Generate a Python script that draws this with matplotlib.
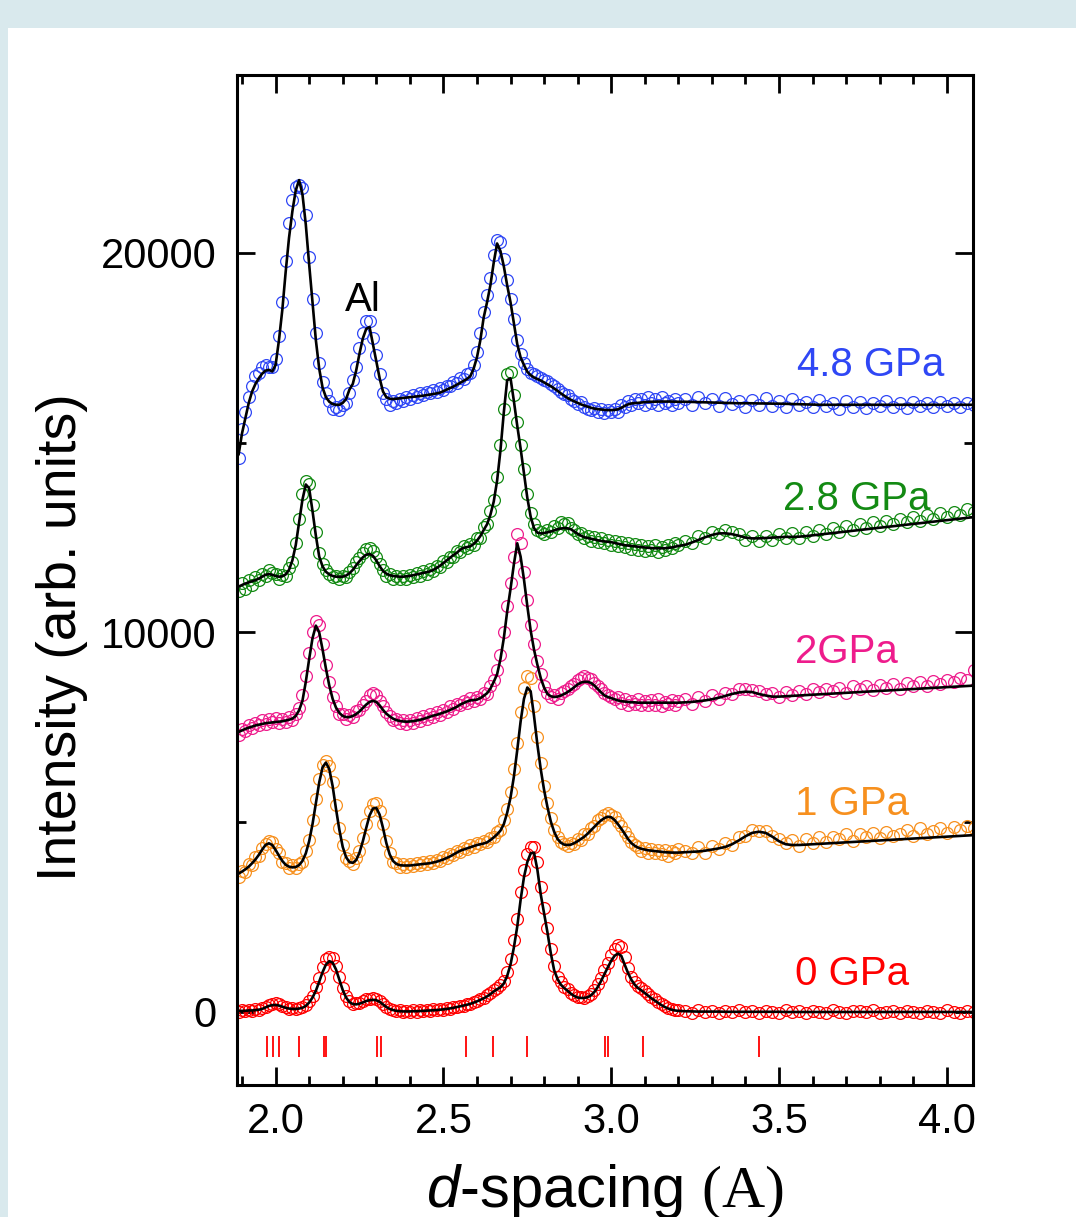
import numpy as np
import matplotlib.pyplot as plt
from matplotlib.patches import Rectangle
from matplotlib.ticker import MultipleLocator

plt.rcParams['font.family'] = ['Liberation Sans', 'DejaVu Sans']
plt.rcParams['mathtext.fontset'] = 'custom'
plt.rcParams['mathtext.it'] = 'Liberation Sans:italic'
plt.rcParams['mathtext.rm'] = 'Liberation Serif'

# d-spacing grid: 0.01 steps up to 3.20, then 0.02 steps to 4.08
d = np.concatenate([np.arange(189, 321) / 100, np.arange(322, 409, 2) / 100])

# ---------------- 0 GPa ----------------
fit_0 = [
    30, 30, 30, 40, 40, 50, 60, 80, 120, 160,
    180, 185, 170, 140, 110, 90, 80, 80, 90, 110,
    160, 250, 380, 560, 800, 1050, 1250, 1340, 1300, 1120,
    850, 580, 380, 260, 210, 200, 220, 250, 290, 310,
    320, 310, 270, 200, 130, 80, 50, 30, 20, 15,
    15, 15, 20, 20, 25, 30, 35, 40, 45, 50,
    60, 70, 80, 95, 110, 130, 150, 170, 190, 215,
    245, 280, 320, 360, 410, 470, 540, 600, 650, 750,
    950, 1250, 1700, 2250, 2950, 3550, 3950, 4180, 4200, 3750,
    3100, 2600, 2100, 1550, 1100, 870, 720, 630, 560, 480,
    420, 380, 370, 370, 390, 440, 530, 660, 820, 1000,
    1180, 1350, 1480, 1540, 1480, 1250, 1030, 850, 720, 630,
    570, 500, 430, 360, 300, 240, 180, 130, 90, 60,
    40, 30,
    20, 15, 10, 10, 10, 10, 5, 5, 5, 5,
    5, 5, 5, 5, 5, 0, 0, 0, 0, 0,
    0, 0, 0, 0, 0, 0, 0, 0, 0, 0,
    0, 0, 0, 0, 0, 0, 0, 0, 0, 0,
    0, 0, 0, 0,
]
obs_0 = [
    10, 40, 20, 60, 30, 70, 50, 110, 130, 190,
    220, 230, 200, 150, 130, 90, 110, 70, 100, 130,
    180, 290, 430, 650, 900, 1180, 1390, 1460, 1420, 1220,
    930, 640, 420, 290, 220, 230, 240, 290, 330, 350,
    370, 340, 300, 220, 140, 70, 60, 20, 40, 10,
    30, 0, 40, 10, 50, 20, 60, 30, 70, 60,
    80, 60, 100, 90, 130, 120, 170, 160, 210, 200,
    270, 290, 350, 370, 440, 490, 570, 620, 700, 820,
    1050, 1400, 1900, 2450, 3150, 3750, 4150, 4350, 4360, 3950,
    3300, 2750, 2200, 1650, 1200, 930, 780, 660, 600, 500,
    450, 390, 400, 380, 420, 480, 590, 740, 900, 1100,
    1300, 1500, 1650, 1760, 1700, 1450, 1150, 930, 790, 690,
    620, 560, 470, 400, 330, 260, 200, 150, 100, 80,
    50, 40,
    30, -20, 40, 0, 30, -30, 20, -10, 40, 0,
    30, -30, 20, 10, -20, 40, 0, 20, -30, 30,
    10, -20, 40, 0, -30, 20, 30, -10, 40, -20,
    0, 30, -30, 20, 10, -20, 30, 0, -30, 40,
    10, -20, 30, 0,
]

# ---------------- 1 GPa ----------------
fit_1 = [
    3650, 3700, 3760, 3830, 3920, 4020, 4140, 4280, 4400, 4445,
    4400, 4270, 4120, 3980, 3880, 3830, 3810, 3820, 3870, 3980,
    4180, 4500, 4950, 5500, 6050, 6450, 6570, 6400, 5950, 5350,
    4800, 4350, 4080, 3950, 3930, 4000, 4200, 4500, 4850, 5180,
    5360, 5380, 5200, 4850, 4450, 4150, 3980, 3900, 3870, 3860,
    3860, 3860, 3870, 3880, 3890, 3900, 3910, 3920, 3940, 3960,
    3990, 4020, 4060, 4100, 4150, 4200, 4250, 4280, 4310, 4340,
    4370, 4400, 4420, 4440, 4470, 4530, 4600, 4680, 4780, 4950,
    5250, 5650, 6200, 6900, 7650, 8250, 8550, 8450, 7800, 7050,
    6400, 5850, 5400, 5020, 4750, 4560, 4460, 4410, 4400, 4410,
    4450, 4500, 4560, 4620, 4700, 4790, 4880, 4970, 5050, 5110,
    5146, 5130, 5060, 4950, 4830, 4700, 4560, 4450, 4380, 4330,
    4300, 4280, 4260, 4250, 4240, 4230, 4220, 4210, 4205, 4200,
    4200, 4200,
    4210, 4220, 4230, 4250, 4280, 4310, 4350, 4420, 4520, 4630,
    4720, 4750, 4720, 4620, 4500, 4420, 4400, 4400, 4410, 4420,
    4430, 4440, 4450, 4460, 4470, 4480, 4490, 4500, 4510, 4520,
    4530, 4540, 4550, 4560, 4570, 4580, 4590, 4600, 4610, 4620,
    4630, 4640, 4650, 4660,
]
obs_1 = [
    3560, 3720, 3700, 3900, 3880, 4080, 4120, 4330, 4430, 4500,
    4480, 4300, 4180, 3950, 3930, 3800, 3860, 3790, 3900, 3960,
    4230, 4520, 5050, 5600, 6150, 6500, 6620, 6480, 6050, 5450,
    4850, 4400, 4050, 3980, 3900, 4050, 4230, 4580, 4950, 5300,
    5480, 5500, 5300, 4950, 4500, 4200, 3950, 3920, 3830, 3900,
    3820, 3900, 3850, 3930, 3860, 3950, 3890, 3980, 3920, 4010,
    3980, 4080, 4050, 4160, 4130, 4250, 4220, 4330, 4290, 4400,
    4360, 4450, 4420, 4500, 4480, 4590, 4620, 4750, 4800, 5050,
    5350, 5800, 6400, 7100, 7900, 8550, 8850, 8800, 8050, 7250,
    6550, 5950, 5500, 5100, 4800, 4620, 4480, 4420, 4380, 4450,
    4420, 4560, 4530, 4680, 4690, 4850, 4900, 5050, 5120, 5200,
    5250, 5200, 5150, 5000, 4900, 4750, 4600, 4480, 4400, 4350,
    4250, 4330, 4200, 4300, 4180, 4280, 4150, 4260, 4120, 4250,
    4180, 4300,
    4250, 4180, 4350, 4200, 4380, 4300, 4450, 4400, 4600, 4650,
    4800, 4780, 4760, 4650, 4560, 4450, 4520, 4380, 4550, 4450,
    4600, 4480, 4620, 4550, 4680, 4500, 4700, 4600, 4720, 4580,
    4750, 4650, 4700, 4800, 4650, 4850, 4700, 4780, 4850, 4720,
    4880, 4800, 4900, 4850,
]

# ---------------- 2 GPa ----------------
fit_2 = [
    7380, 7420, 7460, 7490, 7520, 7550, 7570, 7590, 7610, 7620,
    7630, 7640, 7650, 7660, 7680, 7700, 7730, 7800, 7950, 8200,
    8700, 9300, 9850, 10180, 10000, 9550, 9050, 8600, 8250, 8020,
    7880, 7800, 7770, 7770, 7800, 7850, 7920, 8010, 8100, 8170,
    8200, 8170, 8080, 7960, 7860, 7790, 7730, 7690, 7670, 7655,
    7650, 7655, 7665, 7680, 7700, 7720, 7750, 7780, 7810, 7830,
    7860, 7890, 7920, 7960, 8000, 8040, 8100, 8140, 8180, 8210,
    8220, 8230, 8270, 8330, 8400, 8520, 8700, 8900, 9300, 9850,
    10550, 11150, 11800, 12350, 12000, 11400, 10700, 10050, 9550, 9150,
    8800, 8550, 8380, 8320, 8300, 8310, 8340, 8380, 8430, 8490,
    8560, 8630, 8680, 8700, 8700, 8670, 8600, 8510, 8420, 8340,
    8300, 8270, 8240, 8210, 8190, 8180, 8170, 8160, 8160, 8150,
    8150, 8150, 8150, 8150, 8150, 8150, 8150, 8150, 8150, 8150,
    8150, 8150,
    8160, 8170, 8190, 8210, 8240, 8280, 8330, 8380, 8420, 8440,
    8430, 8380, 8340, 8310, 8310, 8320, 8330, 8340, 8350, 8360,
    8370, 8380, 8390, 8400, 8410, 8420, 8430, 8440, 8450, 8460,
    8470, 8480, 8490, 8500, 8510, 8520, 8530, 8540, 8550, 8560,
    8570, 8580, 8590, 8600,
]
obs_2 = [
    7300, 7450, 7400, 7560, 7480, 7620, 7550, 7700, 7580, 7720,
    7650, 7750, 7620, 7720, 7650, 7780, 7700, 7850, 8000, 8350,
    8850, 9450, 10000, 10300, 10200, 9700, 9150, 8700, 8300, 8050,
    7850, 7850, 7720, 7820, 7780, 7920, 7950, 8100, 8200, 8350,
    8400, 8350, 8200, 8050, 7900, 7800, 7700, 7720, 7620, 7700,
    7600, 7700, 7620, 7750, 7680, 7800, 7720, 7850, 7780, 7900,
    7830, 7950, 7900, 8050, 7980, 8120, 8080, 8200, 8150, 8280,
    8200, 8300, 8250, 8400, 8380, 8600, 8750, 9000, 9400, 10000,
    10700, 11300, 12000, 12600, 12350, 11600, 10850, 10200, 9700, 9250,
    8900, 8600, 8400, 8300, 8350, 8250, 8400, 8450, 8520, 8600,
    8650, 8750, 8800, 8850, 8800, 8780, 8680, 8600, 8500, 8400,
    8350, 8300, 8250, 8300, 8150, 8250, 8100, 8200, 8120, 8250,
    8100, 8200, 8080, 8220, 8100, 8250, 8060, 8180, 8120, 8230,
    8080, 8200,
    8250, 8120, 8300, 8200, 8350, 8250, 8400, 8380, 8500, 8520,
    8480, 8450, 8380, 8400, 8300, 8420, 8350, 8450, 8380, 8500,
    8420, 8520, 8450, 8550, 8400, 8580, 8500, 8600, 8480, 8620,
    8550, 8650, 8520, 8680, 8600, 8700, 8580, 8720, 8650, 8750,
    8700, 8800, 8750, 9000,
]

# ---------------- 2.8 GPa ----------------
fit_28 = [
    11210, 11250, 11290, 11320, 11350, 11380, 11420, 11470, 11520, 11540,
    11520, 11490, 11470, 11480, 11530, 11650, 11900, 12300, 12900, 13500,
    13900, 13800, 13200, 12550, 12000, 11740, 11600, 11530, 11490, 11470,
    11470, 11470, 11500, 11560, 11650, 11770, 11880, 11980, 12050, 12068,
    12020, 11900, 11750, 11620, 11550, 11510, 11490, 11480, 11470, 11470,
    11480, 11490, 11510, 11530, 11550, 11570, 11590, 11610, 11650, 11700,
    11760, 11830, 11900, 11970, 12040, 12100, 12180, 12230, 12250, 12270,
    12330, 12420, 12540, 12700, 12850, 13100, 13450, 14000, 14800, 15800,
    16650, 16700, 16100, 15450, 14850, 14200, 13550, 13050, 12750, 12630,
    12610, 12620, 12640, 12660, 12690, 12720, 12740, 12750, 12745, 12720,
    12660, 12600, 12550, 12510, 12490, 12470, 12450, 12430, 12410, 12400,
    12390, 12380, 12360, 12340, 12320, 12300, 12290, 12280, 12270, 12260,
    12250, 12240, 12230, 12225, 12220, 12218, 12218, 12220, 12230, 12240,
    12260, 12280,
    12310, 12370, 12440, 12510, 12570, 12610, 12614, 12590, 12550, 12500,
    12480, 12480, 12490, 12500, 12510, 12520, 12520, 12525, 12540, 12560,
    12580, 12600, 12620, 12640, 12660, 12680, 12700, 12720, 12740, 12760,
    12780, 12800, 12820, 12840, 12860, 12880, 12900, 12920, 12940, 12960,
    12980, 13000, 13020, 13040,
]
obs_28 = [
    11100, 11300, 11150, 11380, 11250, 11450, 11380, 11550, 11500, 11650,
    11580, 11550, 11420, 11520, 11480, 11700, 11850, 12350, 13000, 13650,
    14000, 13900, 13350, 12650, 12100, 11800, 11650, 11550, 11450, 11500,
    11400, 11480, 11450, 11600, 11700, 11850, 11950, 12100, 12200, 12230,
    12150, 12000, 11800, 11650, 11500, 11550, 11420, 11500, 11400, 11480,
    11420, 11520, 11460, 11580, 11500, 11620, 11550, 11680, 11620, 11750,
    11720, 11880, 11850, 12000, 11980, 12150, 12120, 12280, 12220, 12330,
    12300, 12480, 12500, 12780, 12850, 13200, 13500, 14100, 14950, 15900,
    16800, 16870, 16250, 15550, 14950, 14300, 13650, 13150, 12850, 12700,
    12650, 12600, 12700, 12650, 12800, 12750, 12900, 12850, 12880, 12750,
    12700, 12600, 12620, 12480, 12550, 12400, 12520, 12380, 12480, 12350,
    12450, 12300, 12420, 12280, 12380, 12250, 12350, 12200, 12320, 12180,
    12300, 12150, 12280, 12170, 12300, 12120, 12260, 12180, 12300, 12220,
    12350, 12300,
    12400, 12350, 12550, 12480, 12650, 12600, 12700, 12650, 12600, 12450,
    12550, 12400, 12550, 12450, 12600, 12480, 12620, 12500, 12650, 12550,
    12700, 12600, 12750, 12650, 12800, 12700, 12850, 12750, 12900, 12800,
    12950, 12850, 13000, 12900, 13050, 12950, 13100, 13000, 13150, 13050,
    13180, 13100, 13250, 13180,
]

# ---------------- 4.8 GPa ----------------
fit_48 = [
    14700, 15250, 15650, 16050, 16350, 16550, 16700, 16820, 16900, 16920,
    16880, 17050, 17700, 18500, 19500, 20400, 21100, 21650, 21920, 21550,
    20750, 19700, 18700, 17700, 16950, 16450, 16200, 16080, 16020, 16000,
    16000, 16050, 16150, 16400, 16550, 16900, 17350, 17750, 18000, 18050,
    17600, 17150, 16700, 16350, 16200, 16160, 16150, 16160, 16170, 16180,
    16190, 16200, 16210, 16220, 16230, 16240, 16255, 16270, 16285, 16300,
    16320, 16360, 16400, 16440, 16480, 16530, 16580, 16630, 16680, 16750,
    16950, 17250, 17700, 18300, 18700, 19150, 19750, 20250, 20050, 19650,
    19150, 18700, 18150, 17600, 17250, 17050, 16870, 16780, 16720, 16680,
    16640, 16590, 16540, 16490, 16430, 16370, 16300, 16240, 16180, 16130,
    16090, 16050, 16010, 15980, 15950, 15920, 15900, 15885, 15875, 15865,
    15860, 15860, 15865, 15880, 15920, 15970, 16010, 16035, 16045, 16050,
    16060, 16070, 16075, 16080, 16080, 16085, 16085, 16085, 16085, 16085,
    16080, 16080,
    16080, 16075, 16070, 16065, 16060, 16055, 16050, 16045, 16040, 16040,
    16040, 16035, 16035, 16030, 16030, 16025, 16020, 16015, 16010, 16005,
    16000, 16000, 16000, 16000, 16000, 16000, 16000, 16000, 16000, 16000,
    16000, 16000, 16000, 16000, 16000, 16000, 16000, 16000, 16000, 16000,
    16000, 16000, 16000, 16000,
]
obs_48 = [
    14600, 15350, 15800, 16200, 16500, 16750, 16850, 17000, 17050, 17000,
    17000, 17200, 17800, 18700, 19800, 20800, 21400, 21750, 21800, 21700,
    21000, 19900, 18800, 17900, 17100, 16600, 16300, 16100, 15900, 15950,
    15850, 16000, 16050, 16300, 16650, 17000, 17500, 17900, 18200, 18200,
    17750, 17300, 16800, 16300, 16150, 16000, 16100, 16050, 16150, 16100,
    16200, 16150, 16250, 16200, 16300, 16250, 16350, 16300, 16400, 16350,
    16450, 16400, 16500, 16500, 16600, 16580, 16700, 16680, 16800, 16850,
    17050, 17400, 17900, 18450, 18900, 19350, 19950, 20350, 20300, 19850,
    19300, 18800, 18250, 17700, 17350, 17100, 16950, 16850, 16800, 16750,
    16700, 16650, 16620, 16550, 16500, 16420, 16350, 16280, 16250, 16150,
    16100, 16020, 16080, 15950, 15900, 15850, 15920, 15800, 15900, 15780,
    15850, 15800, 15900, 15820, 16000, 15950, 16100, 16000, 16150, 16050,
    16150, 16000, 16200, 16050, 16150, 16000, 16200, 16050, 16100, 16000,
    16150, 16050,
    16150, 16000, 16200, 16050, 16150, 15980, 16180, 16020, 16100, 15950,
    16120, 16000, 16180, 15980, 16100, 15950, 16150, 16000, 16080, 15950,
    16120, 15980, 16050, 15900, 16100, 15950, 16080, 15920, 16060, 15980,
    16100, 15950, 16050, 15920, 16080, 15980, 16050, 15940, 16080, 15980,
    16060, 15950, 16050, 16000,
]

labels = ['0 GPa', '1 GPa', '2GPa', '2.8 GPa', '4.8 GPa']
colors = ['#ff0000', '#f7901e', '#ee1c8c', '#138a13', '#2f47f5']
fits = [fit_0, fit_1, fit_2, fit_28, fit_48]
obs = [obs_0, obs_1, obs_2, obs_28, obs_48]
# label anchor (d, intensity) for the pressure labels
label_pos = [(3.547, 700), (3.547, 5200), (3.547, 9200), (3.511, 13240), (3.554, 16760)]

# reflection markers under the 0 GPa pattern
bragg_d = [1.975, 1.993, 2.009, 2.070, 2.145, 2.149, 2.301, 2.313,
           2.567, 2.649, 2.750, 2.981, 2.991, 3.094, 3.441]

fig = plt.figure(figsize=(10.76, 12.17), dpi=100)
fig.patch.set_facecolor('#d9e9ed')
fig.patches.append(Rectangle((8 / 1076, 0), 1, 1 - 28 / 1217, transform=fig.transFigure,
                             facecolor='white', edgecolor='none', zorder=-5))

ax = fig.add_axes([237 / 1076, 1 - 1085 / 1217, 736 / 1076, 1010 / 1217])
ax.set_zorder(2)
ax.patch.set_alpha(0)

for f, o, c, lab, (lx, ly) in zip(fits, obs, colors, labels, label_pos):
    ax.plot(d, o, 'o', mfc='none', mec=c, ms=8.5, mew=0.9)
    ax.plot(d, f, '-', color='black', lw=1.9)
    ax.text(lx, ly, lab, color=c, fontsize=29, ha='left', va='baseline')

ax.vlines(bragg_d, -1180, -620, color='red', lw=1.3)
ax.text(2.206, 18480, 'Al', fontsize=29, ha='left', va='baseline')

ax.set_xlim(1.885, 4.078)
ax.set_ylim(-1924, 24690)
ax.xaxis.set_major_locator(MultipleLocator(0.5))
ax.xaxis.set_minor_locator(MultipleLocator(0.1))
ax.yaxis.set_major_locator(MultipleLocator(10000))
ax.yaxis.set_minor_locator(MultipleLocator(5000))
ax.xaxis.set_major_formatter(plt.FormatStrFormatter('%.1f'))
ax.yaxis.set_major_formatter(plt.FormatStrFormatter('%d'))

for s in ax.spines.values():
    s.set_linewidth(2.2)
ax.tick_params(which='both', direction='in', top=True, right=True, width=2, labelsize=30)
ax.tick_params(which='major', length=13)
ax.tick_params(which='minor', length=6.5)
ax.tick_params(axis='x', pad=12)
ax.tick_params(axis='y', pad=15)

fig.text(62 / 1076, 1 - 637 / 1217, 'Intensity (arb. units)', rotation=90,
         ha='center', va='center', fontsize=40)
fig.text(605 / 1076, 1 - 1207 / 1217, r'$\mathit{d}$-spacing $\mathrm{(A)}$',
         ha='center', va='baseline', fontsize=43)

fig.savefig('out.png', dpi=100, facecolor=fig.get_facecolor())
